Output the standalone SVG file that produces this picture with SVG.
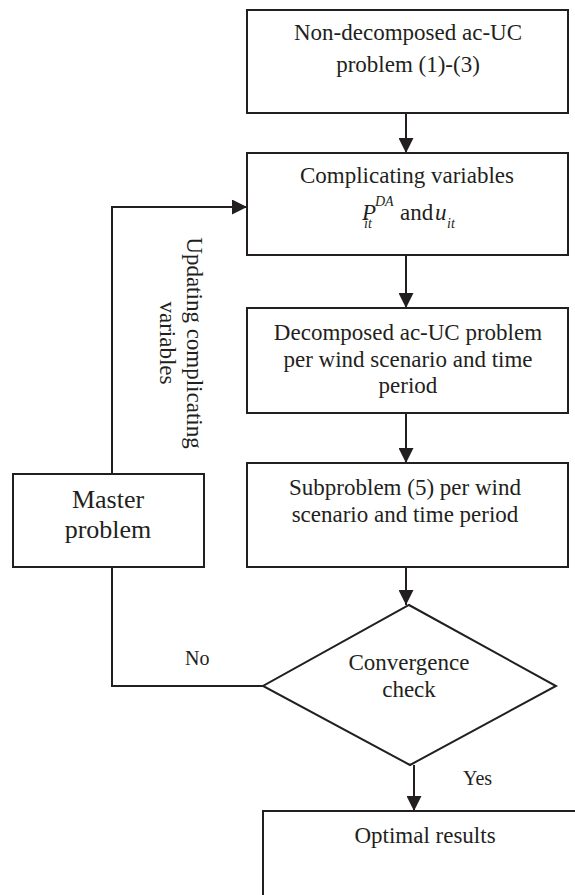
<svg xmlns="http://www.w3.org/2000/svg" width="575" height="895" viewBox="0 0 575 895" font-family="'Liberation Serif', 'DejaVu Serif', serif">
<style>
.box{fill:#fff;stroke:#231f20;stroke-width:2}
.ln{fill:none;stroke:#231f20;stroke-width:2}
text{font-family:'Liberation Serif','DejaVu Serif',serif;fill:#231f20}
.t{font-size:23px;text-anchor:middle}
.m{font-size:26px;text-anchor:middle}
.lbl{font-size:20px}
.it{font-style:italic}
</style>
<defs>
<marker id="arr" markerUnits="userSpaceOnUse" markerWidth="15" markerHeight="15" refX="15" refY="7.5" orient="auto">
<path d="M0,0 L15,7.5 L0,15 z" fill="#231f20"/>
</marker>
</defs>
<rect width="575" height="895" fill="#fff"/>
<g id="connectors">
<line class="ln" x1="406" y1="113" x2="406" y2="153" marker-end="url(#arr)"/>
<line class="ln" x1="406" y1="255" x2="406" y2="308" marker-end="url(#arr)"/>
<line class="ln" x1="406" y1="413" x2="406" y2="463" marker-end="url(#arr)"/>
<line class="ln" x1="406" y1="567" x2="406" y2="605" marker-end="url(#arr)"/>
<line class="ln" x1="414" y1="765" x2="414" y2="811" marker-end="url(#arr)"/>
<polyline class="ln" points="263,686 112,686 112,567"/>
<polyline class="ln" points="112,474 112,207 247,207" marker-end="url(#arr)"/>
<text class="lbl" x="185" y="665">No</text>
<text class="lbl" x="463" y="785">Yes</text>
<text class="t" transform="translate(187,343) rotate(90)"><tspan x="0" y="0">Updating complicating</tspan><tspan x="0" y="27">variables</tspan></text>
</g>
<g id="n1">
<rect class="box" x="247" y="10" width="321" height="103"/>
<text class="t" x="408" y="40">Non-decomposed ac-UC</text>
<text class="t" x="408" y="72">problem (1)-(3)</text>
</g>
<g id="n2">
<rect class="box" x="247" y="153" width="321" height="102"/>
<text class="t" x="407" y="183">Complicating variables</text>
<text font-size="23"><tspan class="it" x="362" y="220">P</tspan><tspan class="it" x="375" y="206" font-size="14">DA</tspan><tspan class="it" x="364" y="228" font-size="14">it</tspan><tspan x="400" y="220">and</tspan><tspan class="it" x="435" y="220">u</tspan><tspan class="it" x="447" y="228" font-size="14">it</tspan></text>
</g>
<g id="n3">
<rect class="box" x="247" y="308" width="321" height="105"/>
<text class="t" x="408" y="340">Decomposed ac-UC problem</text>
<text class="t" x="408" y="367">per wind scenario and time</text>
<text class="t" x="408" y="393">period</text>
</g>
<g id="n4">
<rect class="box" x="247" y="463" width="321" height="104"/>
<text class="t" x="405" y="495">Subproblem (5) per wind</text>
<text class="t" x="405" y="522">scenario and time period</text>
</g>
<g id="master">
<rect class="box" x="13" y="474" width="191" height="93"/>
<text class="m" x="108" y="508">Master</text>
<text class="m" x="108" y="538">problem</text>
</g>
<g id="conv">
<polygon class="box" points="409,605 556,686 410,765 263,686"/>
<text class="t" x="409" y="670">Convergence</text>
<text class="t" x="409" y="697">check</text>
</g>
<g id="opt">
<path class="ln" d="M576,811 H263 V896" style="fill:#fff"/>
<text class="t" x="425" y="843">Optimal results</text>
</g>
</svg>
